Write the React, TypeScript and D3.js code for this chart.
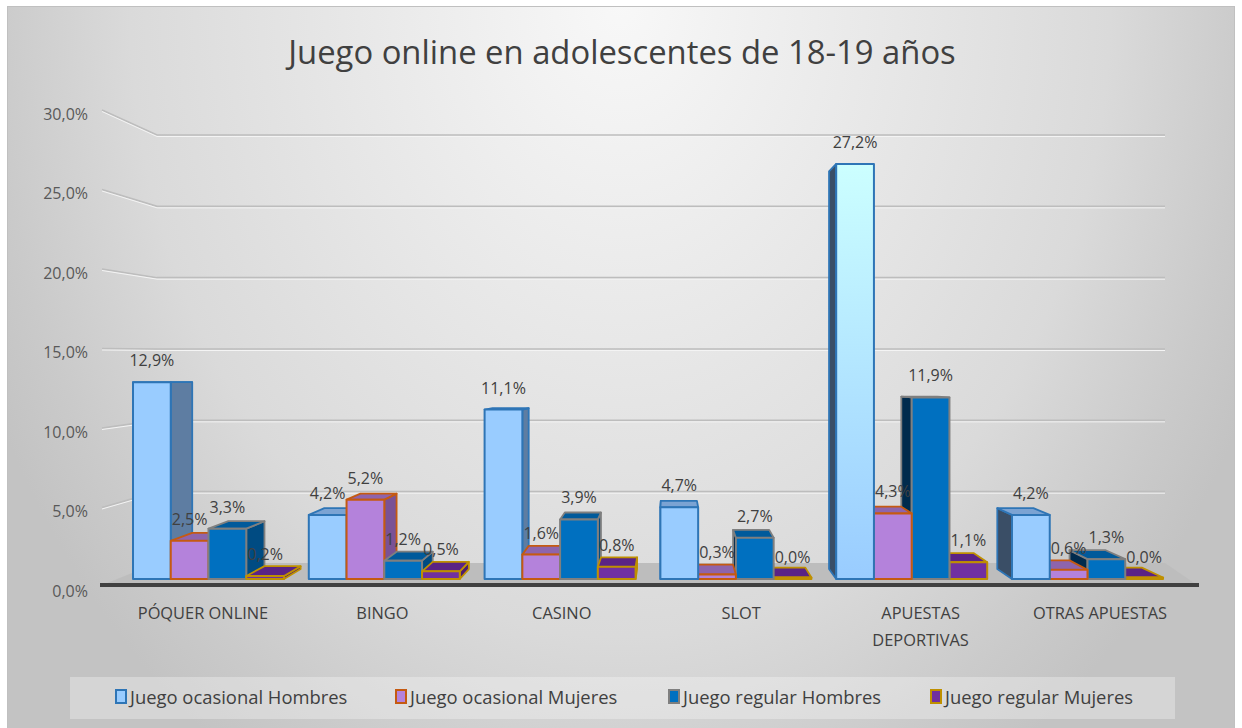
import React from "react";
import * as d3 from "d3";

const categories = ["PÓQUER ONLINE", "BINGO", "CASINO", "SLOT", "APUESTAS DEPORTIVAS", "OTRAS APUESTAS"];
const categoryLines = [["PÓQUER ONLINE"], ["BINGO"], ["CASINO"], ["SLOT"], ["APUESTAS", "DEPORTIVAS"], ["OTRAS APUESTAS"]];
const seriesNames = ["Juego ocasional Hombres", "Juego ocasional Mujeres", "Juego regular Hombres", "Juego regular Mujeres"];
const ocasionalHombres = [12.9, 4.2, 11.1, 4.7, 27.2, 4.2];
const ocasionalMujeres = [2.5, 5.2, 1.6, 0.3, 4.3, 0.6];
const regularHombres = [3.3, 1.2, 3.9, 2.7, 11.9, 1.3];
const regularMujeres = [0.2, 0.5, 0.8, 0.0, 1.1, 0.0];
const yTicks = [0, 5, 10, 15, 20, 25, 30];
const title = "Juego online en adolescentes de 18-19 años";

const seriesValues = [ocasionalHombres, ocasionalMujeres, regularHombres, regularMujeres];

const styles = [
  { fill: "#99CCFF", stroke: "#2E75B6", top: "#7BA3D3", sideR: "#5E7DA2", sideL: "#3A4E66" },
  { fill: "#B482DB", stroke: "#C55A11", top: "#8E64AC", sideR: "#7A5295", sideL: "#5E3F74" },
  { fill: "#0070C0", stroke: "#7F7F7F", top: "#005A9B", sideR: "#004B82", sideL: "#002B4D" },
  { fill: "#7030A0", stroke: "#BF9000", top: "#5A2385", sideR: "#4C1C70", sideL: "#3A1457" },
];

const FONT = "'Open Sans', 'Liberation Sans', sans-serif";
const VX = 670;
const K = 0.043;
const dxAt = (x: number) => -K * (x - VX);
const dyAt = (y: number) => (y > 380 ? -0.05 * (y - 380) : -0.035 * (y - 380));
const fmt = (v: number) => v.toFixed(1).replace(".", ",") + "%";

export default function App() {
  const W = 1242, H = 728;
  const yFront = d3.scaleLinear().domain([0, 30]).range([579, 579 - 30 * 15.26]);
  const yBack = d3.scaleLinear().domain([0, 30]).range([563, 135]);
  const yLabel = d3.scaleLinear().domain([0, 30]).range([587, 110]);
  const x0 = d3.scaleBand<string>().domain(categories).range([133, 1163]).paddingInner(0.141).paddingOuter(0);
  const x1 = d3.scaleBand<string>().domain(seriesNames).range([0, x0.bandwidth()]);
  const xLab = d3.scalePoint<string>().domain(categories).range([203, 1100]);

  type Bar = { ci: number; si: number; v: number; xa: number; xb: number; yT: number; yB: number };
  const bars: Bar[] = [];
  categories.forEach((c, ci) => {
    seriesNames.forEach((s, si) => {
      const v = seriesValues[si][ci];
      const xa = (x0(c) as number) + (x1(s) as number);
      const xb = xa + x1.bandwidth();
      const yB = yFront(0);
      const yT = Math.min(yFront(v), yB - 1.5);
      bars.push({ ci, si, v, xa, xb, yT, yB });
    });
  });
  const order = [...bars].sort((a, b) => Math.abs((b.xa + b.xb) / 2 - VX) - Math.abs((a.xa + a.xb) / 2 - VX));

  const pts = (p: number[][]) => p.map((q) => q.join(",")).join(" ");

  return (
    <svg width={W} height={H} style={{ position: "absolute", left: 0, top: 0, background: "#fff" }}>
      <defs>
        <radialGradient id="bg" gradientUnits="userSpaceOnUse" cx={620} cy={0} r={700}
          gradientTransform="translate(620,0) scale(1,1.3) translate(-620,0)">
          <stop offset="0" stopColor="#f8f8f8" />
          <stop offset="0.7" stopColor="#dadada" />
          <stop offset="0.9" stopColor="#cacaca" />
          <stop offset="1" stopColor="#c3c3c3" />
        </radialGradient>
        <linearGradient id="special" x1="0" y1="0" x2="0" y2="1">
          <stop offset="0" stopColor="#CCFFFF" />
          <stop offset="1" stopColor="#99CCFF" />
        </linearGradient>
      </defs>
      <rect x={7.5} y={6.5} width={1227} height={722} fill="url(#bg)" stroke="#c0c0c0" strokeWidth={1} />
      <text x={622} y={64} textAnchor="middle" fontFamily={FONT} fontSize={32.8} fill="#404040">{title}</text>

      {yTicks.filter((t) => t > 0).map((t) => (
        <g key={"g" + t}>
          <polyline points={pts([[102, yLabel(t)], [157, yBack(t)], [1165, yBack(t)]])} fill="none" stroke="#bdbdbd" strokeWidth={1.6} />
          <polyline points={pts([[102, yLabel(t) + 1.5], [157, yBack(t) + 1.5], [1165, yBack(t) + 1.5]])} fill="none" stroke="#f4f4f4" strokeWidth={1} />
        </g>
      ))}
      <polygon points={pts([[102, 585], [1197, 585], [1165, 563], [157, 563]])} fill="#bdbdbd" />
      <line x1={100} y1={585} x2={1199} y2={585} stroke="#404040" strokeWidth={4} />

      {yTicks.map((t) => (
        <text key={"t" + t} x={88} y={yLabel(t) + 9.5} textAnchor="end" fontFamily={FONT} fontSize={16} fill="#595959">{fmt(t)}</text>
      ))}

      {order.map((b) => {
        const st = styles[b.si];
        const dyT = dyAt(b.yT);
        const dyB = dyAt(b.yB);
        const right = dxAt((b.xa + b.xb) / 2) > 0;
        const xe = right ? b.xb : b.xa;
        const dxe = dxAt(xe);
        const dxa = dxAt(b.xa), dxb = dxAt(b.xb);
        const special = b.si === 0 && b.v === d3.max(ocasionalHombres);
        return (
          <g key={`b${b.ci}-${b.si}`} strokeLinejoin="round">
            <polygon points={pts([[xe, b.yT], [xe + dxe, b.yT + dyT], [xe + dxe, b.yB + dyB], [xe, b.yB]])}
              fill={right ? st.sideR : st.sideL} stroke={st.stroke} strokeWidth={1.8} />
            {dyT < 0 && (
              <polygon points={pts([[b.xa, b.yT], [b.xb, b.yT], [b.xb + dxb, b.yT + dyT], [b.xa + dxa, b.yT + dyT]])}
                fill={st.top} stroke={st.stroke} strokeWidth={1.8} />
            )}
            <rect x={b.xa} y={b.yT} width={b.xb - b.xa} height={b.yB - b.yT}
              fill={special ? "url(#special)" : st.fill} stroke={st.stroke} strokeWidth={2} />
          </g>
        );
      })}

      {bars.map((b) => (
        <text key={`l${b.ci}-${b.si}`} x={(b.xa + b.xb) / 2} y={yFront(b.v) - 16} textAnchor="middle"
          fontFamily={FONT} fontSize={16} fill="#404040">{fmt(b.v)}</text>
      ))}

      {categories.map((c, ci) => (
        <text key={"c" + c} x={xLab(c)} y={619} textAnchor="middle" fontFamily={FONT} fontSize={16.4} fill="#404040">
          {categoryLines[ci].map((ln, li) => (
            <tspan key={li} x={xLab(c)} dy={li === 0 ? 0 : 27}>{ln}</tspan>
          ))}
        </text>
      ))}

      <rect x={70} y={677} width={1105} height={42} fill="#ffffff" fillOpacity={0.3} />
      {seriesNames.map((s, i) => {
        const lx = [116, 396, 669, 931][i];
        return (
          <g key={"lg" + s}>
            <rect x={lx} y={690} width={10} height={13} fill={styles[i].fill} stroke={styles[i].stroke} strokeWidth={2} />
            <text x={lx + 14} y={704} fontFamily={FONT} fontSize={18.4} fill="#404040">{s}</text>
          </g>
        );
      })}
    </svg>
  );
}
